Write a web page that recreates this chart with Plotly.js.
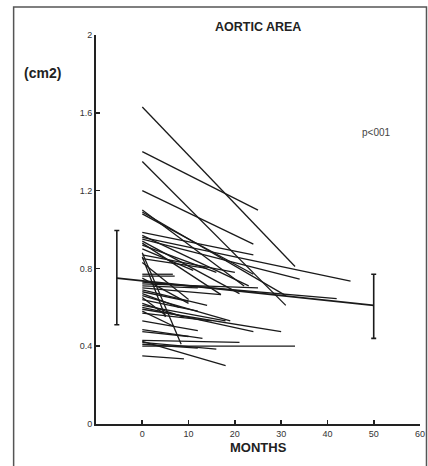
<!DOCTYPE html>
<html>
<head>
<meta charset="utf-8">
<script src="https://cdn.plot.ly/plotly-3.0.1.min.js"></script>
<style>
html,body{margin:0;padding:0;background:#fff;}
#chart{width:428px;height:466px;}
</style>
</head>
<body>
<div id="chart"></div>
<script>
// Individual patients: start month, start area, follow-up month, follow-up area
const startMonth = [0,0,0,0,0,0,0,0,0,0,0,0,0,0,0,0,0,0,0,0,0,0,0,0,0,0,0,0,0,0,0,0,0,0,0,0,0,0,0,0,0,0,0,0,0,0,0,0];
const startVal = [1.63,1.40,1.35,1.20,1.10,1.09,1.08,0.985,0.96,0.95,0.94,0.93,0.92,0.90,0.88,0.87,0.85,0.83,0.77,0.76,0.73,0.72,0.71,0.70,0.68,0.67,0.66,0.65,0.64,0.62,0.60,0.59,0.58,0.57,0.53,0.485,0.475,0.43,0.425,0.42,0.40,0.41,0.35,0.97,0.86,0.75,0.69,0.61];
const endMonth = [33,25,31,24,22,31,24,24,45,34,21,17,16,11,8.4,20,14,10,6.6,7,42,25,12,17,10,8,19,5,12,9,24,30,7,15,12,13,10,21,18,16,33,12,9,23,5,10,14,18];
const endVal = [0.81,1.10,0.61,0.925,0.71,0.66,0.77,0.87,0.735,0.745,0.67,0.665,0.78,0.79,0.41,0.78,0.80,0.64,0.77,0.76,0.645,0.70,0.70,0.665,0.63,0.60,0.53,0.56,0.58,0.55,0.475,0.475,0.50,0.53,0.48,0.44,0.45,0.42,0.30,0.385,0.40,0.39,0.335,0.71,0.55,0.62,0.61,0.53];

// Group mean +/- SD
const meanMonths = [-5.5, 50];
const meanVals = [0.75, 0.61];
const sdPlus = [0.245, 0.16];
const sdMinus = [0.24, 0.17];

const xTicks = [0,10,20,30,40,50,60];
const yTicks = [0,0.4,0.8,1.2,1.6,2];
const yTickText = ['0','0.4','0.8','1.2','1.6','2'];

const segX = [], segY = [];
for (let i = 0; i < startVal.length; i++) {
  segX.push(startMonth[i], endMonth[i], null);
  segY.push(startVal[i], endVal[i], null);
}

const traces = [
  {
    x: segX, y: segY, type: 'scatter', mode: 'lines',
    line: {color: '#1a1a1a', width: 1.3},
    hoverinfo: 'skip', showlegend: false
  },
  {
    x: meanMonths, y: meanVals, type: 'scatter', mode: 'lines',
    line: {color: '#1a1a1a', width: 1.6},
    error_y: {type: 'data', symmetric: false, array: sdPlus, arrayminus: sdMinus,
              color: '#1a1a1a', thickness: 1.6, width: 2.5},
    showlegend: false
  }
];

const W = 428, H = 466, L = 96, R = 7.5, T = 35, B = 42;
const pw = W - L - R, ph = H - T - B;
const px = v => (v - L) / pw;
const py = v => (H - B - v) / ph;

const layout = {
  width: W, height: H,
  margin: {l: L, r: R, t: T, b: B, pad: 0},
  paper_bgcolor: '#ffffff', plot_bgcolor: '#ffffff',
  showlegend: false,
  font: {family: 'Liberation Sans, Arial, sans-serif', color: '#222'},
  xaxis: {
    range: [-10, 60], tickvals: xTicks, ticktext: xTicks.map(String),
    ticks: 'inside', ticklen: 4, tickwidth: 1.6, tickcolor: '#222',
    showline: true, linecolor: '#222', linewidth: 2,
    showgrid: false, zeroline: false,
    tickfont: {size: 9, color: '#333'}
  },
  yaxis: {
    range: [0, 2], tickvals: yTicks, ticktext: yTickText,
    ticks: 'inside', ticklen: 4, tickwidth: 1.6, tickcolor: '#222',
    showline: true, linecolor: '#222', linewidth: 2,
    showgrid: false, zeroline: false,
    tickfont: {size: 9, color: '#333'}
  },
  shapes: [
    {type: 'rect', xref: 'paper', yref: 'paper',
     x0: px(13.5), x1: px(427), y0: py(470), y1: py(7),
     line: {color: '#555', width: 1.5}, fillcolor: 'rgba(0,0,0,0)'}
  ],
  annotations: [
    {text: '<b>AORTIC AREA</b>', xref: 'paper', yref: 'paper', x: px(258), y: py(27),
     showarrow: false, xanchor: 'center', yanchor: 'middle',
     font: {size: 12.5, color: '#222'}},
    {text: '<b>(cm2)</b>', xref: 'paper', yref: 'paper', x: px(42.5), y: py(73),
     showarrow: false, xanchor: 'center', yanchor: 'middle',
     font: {size: 14, color: '#222'}},
    {text: 'p<001', xref: 'paper', yref: 'paper', x: px(377), y: py(132),
     showarrow: false, xanchor: 'center', yanchor: 'middle',
     font: {size: 10, color: '#444'}},
    {text: '<b>MONTHS</b>', xref: 'paper', yref: 'paper', x: px(258.5), y: py(447),
     showarrow: false, xanchor: 'center', yanchor: 'middle',
     font: {size: 13, color: '#222'}}
  ]
};

Plotly.newPlot('chart', traces, layout, {displayModeBar: false, staticPlot: true});
</script>
</body>
</html>
